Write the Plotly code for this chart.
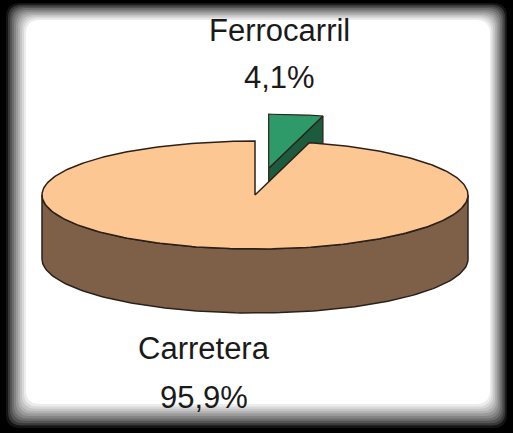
import numpy as np
import plotly.graph_objects as go

# ---- data ----
categories = ["Carretera", "Ferrocarril"]
values = [95.9, 4.1]

# ---- styling / geometry (pixel-like axes) ----
W, H = 513, 433
CX, CY = 255, 195      # centre of top ellipse
RX, RY = 213, 54       # radii of top ellipse
DEPTH = 64             # thickness of the pie
EXPLODE = 0.5          # pull-out fraction for the small slice

TOP_TAN = "#FDC794"
SIDE_BROWN = "#7E6049"
GREEN_TOP = "#2E9A69"
GREEN_SIDE = "#1D5B3F"
EDGE = "#2b2118"


def proj(theta_deg, r=1.0, dx=0.0, dy=0.0, down=0.0):
    t = np.radians(theta_deg)
    return CX + dx + r * RX * np.sin(t), CY + dy - r * RY * np.cos(t) + down


total = sum(values)
frac_small = values[1] / total
a_small = 360 * frac_small          # small slice spans 0 .. a_small (clockwise from 12 o'clock)

fig = go.Figure()

# exploded small slice offset
mid = np.radians(a_small / 2)
ex = EXPLODE * RX * np.sin(mid)
ey = -EXPLODE * RY * np.cos(mid)

# dark cut face of the small slice (radius at a_small)
c0 = proj(0, 0, ex, ey)
o0 = proj(a_small, 1, ex, ey)
face_x = [c0[0], o0[0], o0[0], c0[0], c0[0]]
face_y = [c0[1], o0[1], o0[1] + DEPTH, c0[1] + DEPTH, c0[1]]
fig.add_trace(go.Scatter(x=face_x, y=face_y, fill="toself", fillcolor=GREEN_SIDE,
                         mode="lines", line=dict(color=EDGE, width=1.2), hoverinfo="skip"))

# top face of the small slice
th = np.linspace(0, a_small, 20)
ax_, ay_ = proj(th, 1, ex, ey)
sx = np.concatenate([[c0[0]], ax_, [c0[0]]])
sy = np.concatenate([[c0[1]], ay_, [c0[1]]])
fig.add_trace(go.Scatter(x=sx, y=sy, fill="toself", fillcolor=GREEN_TOP,
                         mode="lines", line=dict(color=EDGE, width=1.2), hoverinfo="skip",
                         name=categories[1]))

# side wall of the big slice (front half)
th = np.linspace(90, 270, 120)
tx, ty = proj(th)
bx, by = proj(th[::-1], 1, 0, 0, DEPTH)
wx = np.concatenate([tx, bx, [tx[0]]])
wy = np.concatenate([ty, by, [ty[0]]])
fig.add_trace(go.Scatter(x=wx, y=wy, fill="toself", fillcolor=SIDE_BROWN,
                         mode="lines", line=dict(color=EDGE, width=1.5), hoverinfo="skip"))

# top face of the big slice
th = np.linspace(a_small, 360, 300)
bx2, by2 = proj(th)
px = np.concatenate([[CX], bx2, [CX]])
py = np.concatenate([[CY], by2, [CY]])
fig.add_trace(go.Scatter(x=px, y=py, fill="toself", fillcolor=TOP_TAN,
                         mode="lines", line=dict(color=EDGE, width=1.5), hoverinfo="skip",
                         name=categories[0]))

# ---- labels ----
def pct(v):
    return f"{v / total * 100:.1f}".replace(".", ",") + "%"

label_pos = {"Ferrocarril": (279, 30, 77), "Carretera": (204, 348, 397)}
font = dict(family="Liberation Sans, Arial, sans-serif", size=31, color="#1a1a1a")
for cat, v in zip(categories, values):
    x, y1, y2 = label_pos[cat]
    fig.add_annotation(x=x, y=y1, text=cat, showarrow=False, font=font, xanchor="center", yanchor="middle")
    fig.add_annotation(x=x, y=y2, text=pct(v), showarrow=False, font=font, xanchor="center", yanchor="middle")

# ---- framed background (blurred black border imitation) ----
shapes = []
steps = 10
outer = (6, 3, 507, 428)
inner = (26, 20, 490, 404)
for i in range(steps + 1):
    f = i / steps
    x0 = outer[0] + (inner[0] - outer[0]) * f
    y0 = outer[1] + (inner[1] - outer[1]) * f
    x1 = outer[2] + (inner[2] - outer[2]) * f
    y1 = outer[3] + (inner[3] - outer[3]) * f
    g = int(20 + 235 * f ** 0.8)
    r = 14
    path = (f"M {x0+r},{y0} L {x1-r},{y0} Q {x1},{y0} {x1},{y0+r} L {x1},{y1-r} "
            f"Q {x1},{y1} {x1-r},{y1} L {x0+r},{y1} Q {x0},{y1} {x0},{y1-r} "
            f"L {x0},{y0+r} Q {x0},{y0} {x0+r},{y0} Z")
    shapes.append(dict(type="path", path=path, xref="x", yref="y", layer="below",
                       fillcolor=f"rgb({g},{g},{g})", line=dict(width=0)))

fig.update_layout(
    width=W, height=H,
    margin=dict(l=0, r=0, t=0, b=0),
    paper_bgcolor="#000000",
    plot_bgcolor="rgba(0,0,0,0)",
    showlegend=False,
    shapes=shapes,
    xaxis=dict(range=[0, W], visible=False, fixedrange=True),
    yaxis=dict(range=[H, 0], visible=False, fixedrange=True),
)

fig.write_html("out.html", config={"displayModeBar": False},
               post_script="document.body.style.margin='0';document.body.style.overflow='hidden';")
